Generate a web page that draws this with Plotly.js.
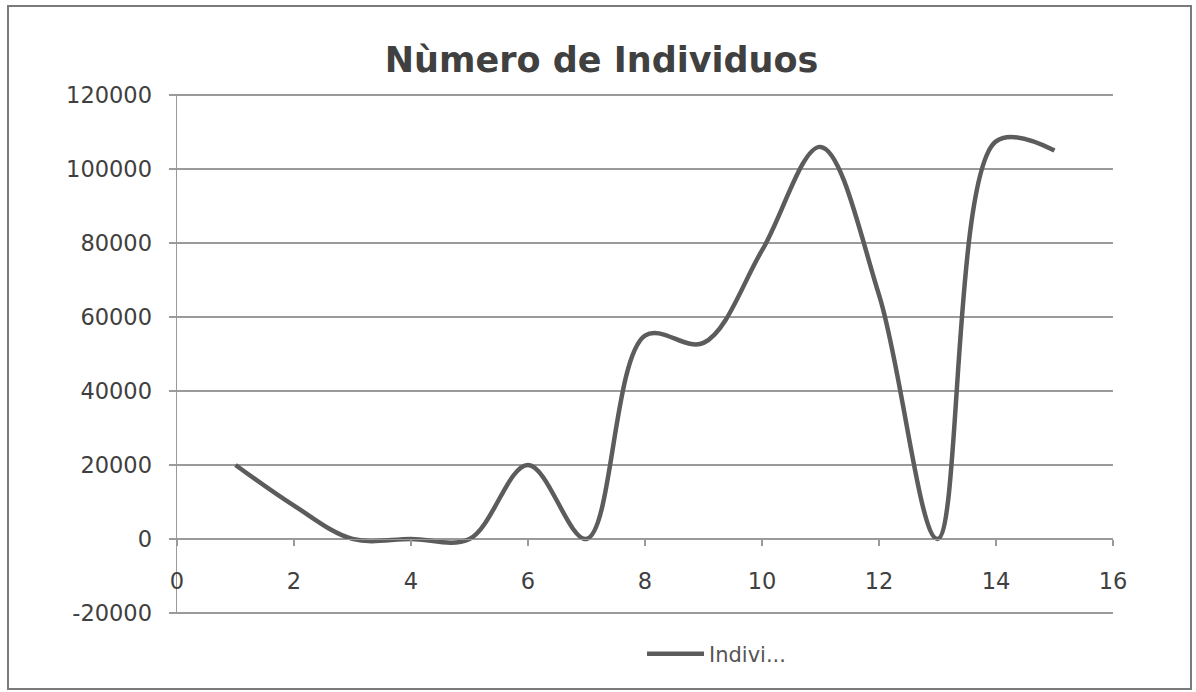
<!DOCTYPE html>
<html>
<head>
<meta charset="utf-8">
<script src="https://cdn.plot.ly/plotly-3.0.1.min.js"></script>
<style>html,body{margin:0;padding:0;background:#fff;}#chart{width:1196px;height:692px;}</style>
</head>
<body>
<div id="chart"></div>
<script>
const seriesName = "Indivi...";
const xValues = [1, 2, 3, 4, 5, 6, 7, 8, 9, 10, 11, 12, 13, 14, 15];
const individuos = [20000, 9000, 0, 0, 0, 20000, 0, 55000, 53000, 78000, 106000, 66000, 0, 107500, 105000];
const yTicks = [-20000, 0, 20000, 40000, 60000, 80000, 100000, 120000];
const xTicks = [0, 2, 4, 6, 8, 10, 12, 14, 16];
const titleText = "Nùmero de Individuos";

const pad = 300;
const yMin = -20000 - pad, yMax = 120000 + pad;
const fontFam = "DejaVu Sans, sans-serif";
const textColor = "#404040";
const gridColor = "#9a9a9a";

const trace = {
  x: xValues,
  y: individuos,
  type: "scatter",
  mode: "lines",
  name: seriesName,
  line: {color: "#5c5c5c", width: 4.5, shape: "spline", smoothing: 1},
  hoverinfo: "x+y"
};

const layout = {
  width: 1196, height: 692,
  margin: {l: 177, r: 83, t: 94, b: 78},
  paper_bgcolor: "#ffffff",
  plot_bgcolor: "#ffffff",
  font: {family: fontFam, color: textColor, size: 22},
  title: {
    text: "<b>" + titleText + "</b>",
    font: {family: fontFam, size: 35, color: "#404040"},
    xref: "container", x: 0.503, xanchor: "center",
    yref: "container", y: 1 - 60/692, yanchor: "middle"
  },
  xaxis: {
    range: [0, 16],
    tickvals: xTicks,
    ticktext: xTicks.map(String),
    showgrid: false,
    zeroline: false,
    showline: true,
    linecolor: gridColor,
    linewidth: 1.5,
    ticks: "outside",
    ticklen: 6,
    tickwidth: 1.5,
    tickcolor: gridColor,
    anchor: "free",
    position: (0 - yMin) / (yMax - yMin),
    ticklabelstandoff: 16,
    tickfont: {family: fontFam, size: 22.5, color: textColor}
  },
  yaxis: {
    range: [yMin, yMax],
    tickvals: yTicks,
    ticktext: yTicks.map(String),
    showgrid: true,
    gridcolor: gridColor,
    gridwidth: 1.5,
    zeroline: false,
    showline: true,
    linecolor: gridColor,
    linewidth: 1.5,
    ticks: "outside",
    ticklen: 7,
    tickwidth: 1.5,
    tickcolor: gridColor,
    ticklabelstandoff: 12,
    tickfont: {family: fontFam, size: 22.5, color: textColor}
  },
  showlegend: true,
  legend: {
    x: (642 - 177) / 936, xanchor: "left",
    y: (612 - 652) / 520, yanchor: "middle",
    orientation: "h",
    itemwidth: 57,
    font: {family: fontFam, size: 21, color: "#555"},
    bgcolor: "rgba(0,0,0,0)"
  },
  shapes: [{
    type: "rect", xref: "paper", yref: "paper",
    x0: (8 - 177) / 936, x1: (1191 - 177) / 936,
    y0: (614 - 689) / 520, y1: (614 - 6) / 520,
    line: {color: "#7a7a7a", width: 2},
    fillcolor: "rgba(0,0,0,0)",
    layer: "below"
  }]
};

Plotly.newPlot("chart", [trace], layout, {displayModeBar: false, staticPlot: true});
</script>
</body>
</html>
